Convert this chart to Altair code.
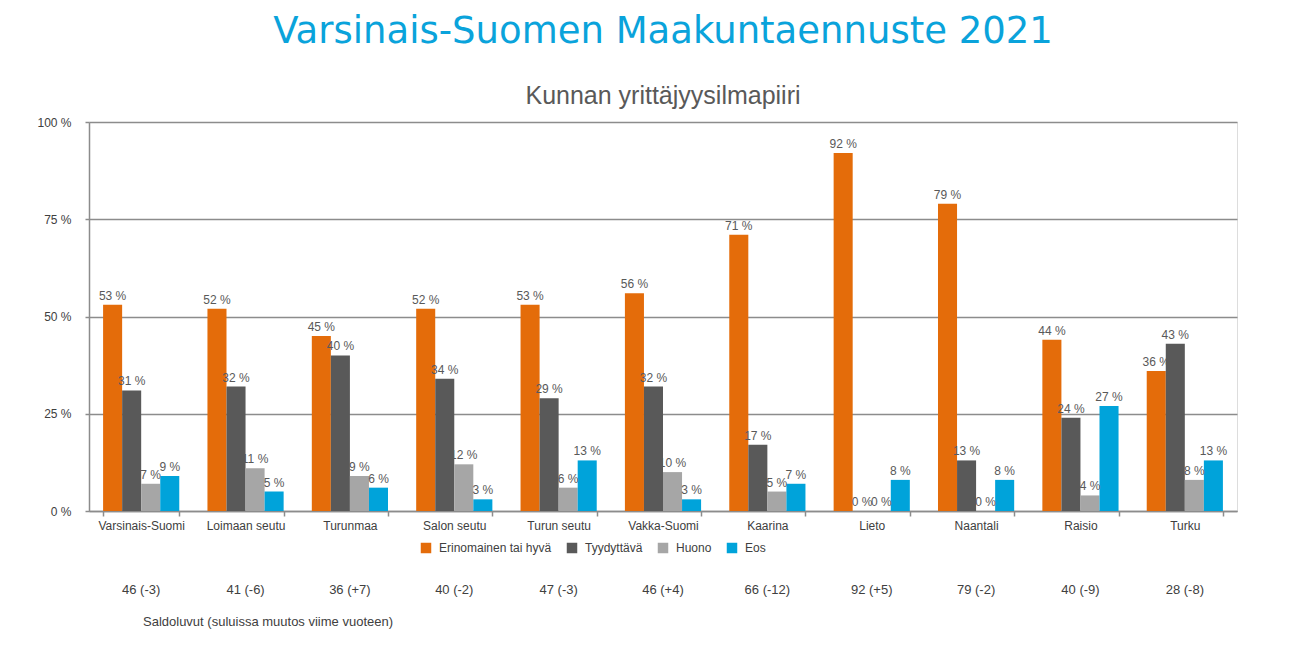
import altair as alt
import pandas as pd

categories = ["Varsinais-Suomi", "Loimaan seutu", "Turunmaa", "Salon seutu", "Turun seutu",
              "Vakka-Suomi", "Kaarina", "Lieto", "Naantali", "Raisio", "Turku"]
series = ["Erinomainen tai hyvä", "Tyydyttävä", "Huono", "Eos"]
colors = ["#E46C0A", "#595959", "#A6A6A6", "#00A3DA"]
erinomainen = [53, 52, 45, 52, 53, 56, 71, 92, 79, 44, 36]
tyydyttava = [31, 32, 40, 34, 29, 32, 17, 0, 13, 24, 43]
huono = [7, 11, 9, 12, 6, 10, 5, 0, 0, 4, 8]
eos = [9, 5, 6, 3, 13, 3, 7, 8, 8, 27, 13]
saldo = ["46 (-3)", "41 (-6)", "36 (+7)", "40 (-2)", "47 (-3)", "46 (+4)",
         "66 (-12)", "92 (+5)", "79 (-2)", "40 (-9)", "28 (-8)"]
note = "Saldoluvut (suluissa muutos viime vuoteen)"
y_ticks = [0, 25, 50, 75, 100]

rows = []
for s, vals in zip(series, [erinomainen, tyydyttava, huono, eos]):
    for c, v in zip(categories, vals):
        rows.append({"alue": c, "sarja": s, "arvo": v})
df = pd.DataFrame(rows)
saldo_df = pd.DataFrame({"alue": categories, "saldo": saldo})
note_df = pd.DataFrame({"t": [note]})

FONT = "Liberation Sans"

x_enc = alt.X("alue:N", sort=categories, title=None,
              scale=alt.Scale(paddingInner=0.27, paddingOuter=0.135),
              axis=alt.Axis(labelAngle=0, labelFontSize=12, labelColor="#404040", labelFont=FONT,
                            domainColor="#8C8C8C", domainWidth=1.5, tickBand="extent",
                            tickColor="#8C8C8C", tickSize=5, tickWidth=1.5, labelPadding=4,
                            grid=False))
y_enc = alt.Y("arvo:Q", title=None,
              scale=alt.Scale(domain=[0, 100], nice=False),
              axis=alt.Axis(values=y_ticks, labelExpr="datum.value + ' %'", labelFontSize=12,
                            labelColor="#404040", labelFont=FONT, labelPadding=14,
                            grid=True, gridColor="#8C8C8C", gridWidth=1.5,
                            domainColor="#8C8C8C", domainWidth=1.5,
                            tickColor="#8C8C8C", tickSize=4, tickWidth=1.5))
xoff = alt.XOffset("sarja:N", sort=series)

bars = alt.Chart(df).mark_bar().encode(
    x=x_enc, y=y_enc, xOffset=xoff,
    color=alt.Color("sarja:N", sort=series,
                    scale=alt.Scale(domain=series, range=colors),
                    legend=alt.Legend(orient="none", legendX=331, legendY=420,
                                      direction="horizontal", title=None,
                                      symbolType="square", symbolSize=110,
                                      symbolStrokeWidth=0, labelFontSize=12,
                                      labelFont=FONT, labelColor="#404040",
                                      columnPadding=14, labelOffset=7)),
)

labels = alt.Chart(df).mark_text(dy=-9, fontSize=12, font=FONT, color="#595959").encode(
    x=alt.X("alue:N", sort=categories), y=alt.Y("arvo:Q"), xOffset=xoff,
    text=alt.Text("label:N"),
).transform_calculate(label="datum.arvo + ' %'")

saldo_text = alt.Chart(saldo_df).mark_text(fontSize=13, font=FONT, color="#404040",
                                           baseline="middle").encode(
    x=alt.X("alue:N", sort=categories), y=alt.value(468), text="saldo:N")

note_text = alt.Chart(note_df).mark_text(fontSize=13, font=FONT, color="#404040",
                                         align="left", baseline="middle").encode(
    x=alt.value(54), y=alt.value(500), text="t:N")

chart = alt.layer(bars, labels, saldo_text, note_text).properties(
    width=1148, height=389,
    autosize=alt.AutoSizeParams(type="none"),
    padding={"left": 81, "top": 114, "right": 61, "bottom": 125},
    title=alt.TitleParams(
        text="Varsinais-Suomen Maakuntaennuste 2021",
        subtitle="Kunnan yrittäjyysilmapiiri",
        font="DejaVu Sans", fontSize=37, fontWeight="normal", color="#0AA3DB",
        subtitleFont=FONT, subtitleFontSize=25, subtitleColor="#595959",
        subtitlePadding=33, anchor="middle", offset=6),
).configure_view(stroke=None).configure(background="white")

chart.save("out.html", embed_options={"renderer": "svg", "actions": False})
